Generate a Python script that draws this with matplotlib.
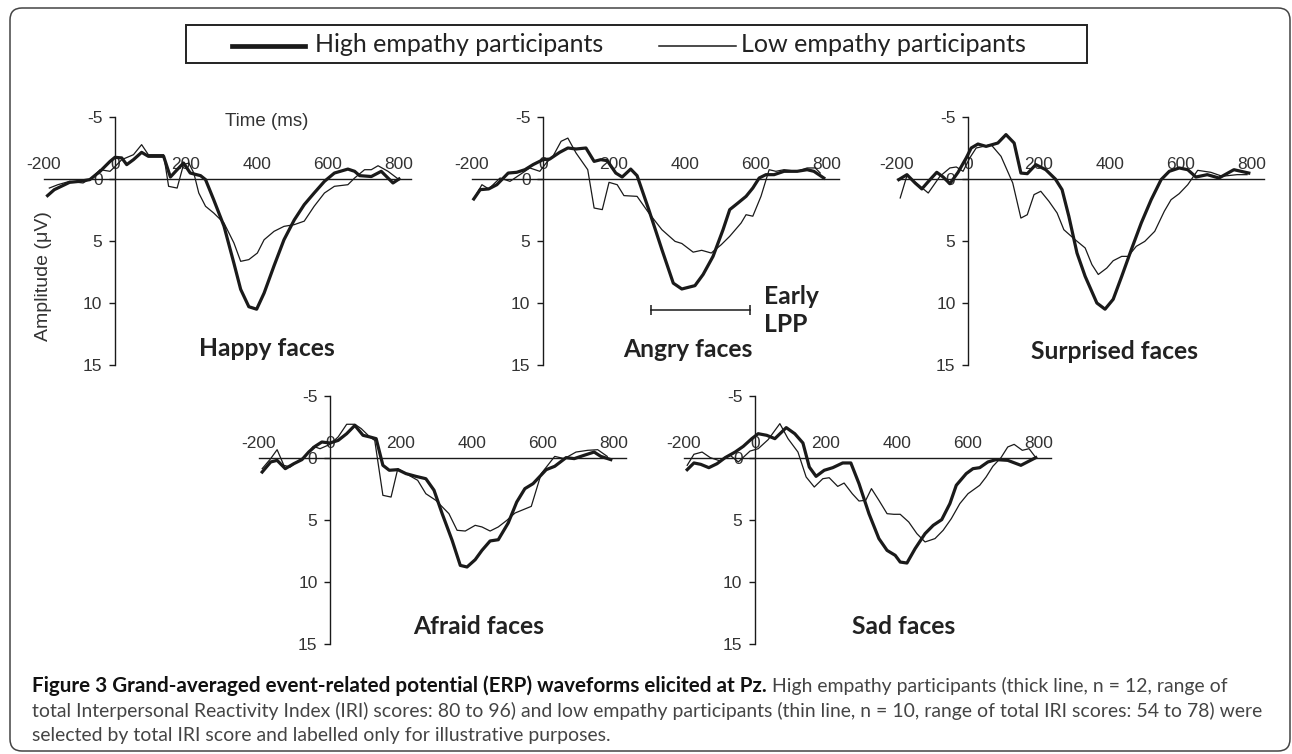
import matplotlib
matplotlib.use("Agg")
import matplotlib.pyplot as plt
from matplotlib.patches import FancyBboxPatch, Rectangle
from matplotlib.lines import Line2D
from matplotlib.transforms import IdentityTransform

plt.rcParams["axes.unicode_minus"] = False

W, H = 1292, 754

# ERP waveforms: time (ms) and amplitude (uV), per face type
happy_high_t = [-190, -171, -152, -128, -100, -71, -42, -14, 0, 19, 33, 52, 75, 94, 137, 156, 175, 193,
                212, 241, 255, 278, 307, 335, 354, 377, 399, 420, 448, 476, 505, 533, 561, 590, 618,
                656, 675, 689, 722, 750, 783, 800]
happy_high_v = [1.34, 0.86, 0.6, 0.27, 0.19, 0.05, -0.62, -1.42, -1.75, -1.7, -1.16, -1.56, -2.15, -1.83,
                -1.83, -0.16, -0.75, -1.29, -0.48, -0.27, 0.05, 1.67, 3.8, 6.8, 8.9, 10.3, 10.5, 9.2,
                7.0, 4.9, 3.3, 2.07, 1.13, 0.19, -0.48, -0.8, -0.62, -0.27, -0.2, -0.62, 0.32, 0.0]
happy_low_t = [-185, -161, -128, -90, -66, -42, -14, 0, 19, 52, 75, 94, 137, 151, 175, 193, 208, 222,
               236, 255, 278, 307, 335, 354, 377, 401, 420, 448, 476, 505, 533, 561, 590, 618, 656,
               675, 703, 722, 741, 769, 800]
happy_low_v = [0.73, 0.46, 0.19, 0.32, -0.08, -0.75, -0.62, -1.0, -1.56, -1.96, -2.77, -1.96, -1.96,
               0.59, 0.73, -1.16, -1.29, -0.48, 1.13, 2.2, 2.74, 3.55, 5.16, 6.64, 6.5, 5.97, 4.9,
               4.22, 3.82, 3.68, 3.4, 2.2, 1.13, 0.59, 0.46, -0.08, -0.75, -0.75, -1.07, -0.62, 0.05]

angry_high_t = [-195, -177, -153, -130, -98, -74, -51, -28, 0, 19, 47, 70, 93, 121, 144, 163, 181, 205,
                223, 247, 265, 298, 335, 367, 391, 428, 451, 479, 507, 526, 549, 572, 591, 609, 628,
                651, 679, 716, 744, 763, 791]
angry_high_v = [1.61, 0.86, 0.8, 0.46, -0.48, -0.54, -0.75, -1.16, -1.56, -1.61, -2.15, -2.5, -2.42,
                -2.5, -1.42, -1.56, -1.48, -0.48, -0.16, -0.8, -0.27, 2.47, 5.7, 8.4, 8.87, 8.6, 7.7,
                6.24, 4.1, 2.47, 1.94, 1.4, 0.73, -0.08, -0.35, -0.35, -0.62, -0.62, -0.75, -0.62, -0.08]
angry_low_t = [-191, -172, -153, -121, -93, -65, -37, -9, 9, 28, 51, 70, 93, 126, 144, 167, 186, 209,
               228, 265, 298, 335, 372, 391, 423, 447, 474, 502, 526, 558, 572, 591, 614, 637, 656,
               679, 716, 744, 767, 781]
angry_low_v = [1.4, 0.46, 0.8, -0.08, 0.19, -0.35, -0.89, -0.62, -1.29, -1.83, -3.04, -3.3, -2.1,
               -0.75, 2.34, 2.47, 0.27, 0.46, 1.34, 1.4, 2.74, 4.09, 5.03, 5.2, 5.9, 5.75, 5.97, 5.3,
               4.62, 3.55, 2.88, 3.0, 1.4, -0.75, -0.62, -0.75, -0.62, -0.89, -0.89, -0.48]

surprised_high_t = [-195, -172, -149, -130, -107, -88, -70, -51, -28, -5, 9, 28, 51, 84, 107, 130, 149,
                    167, 191, 219, 246, 265, 284, 307, 330, 363, 386, 409, 433, 460, 488, 516, 544,
                    567, 595, 619, 642, 674, 707, 749, 791]
surprised_high_v = [0.05, -0.35, 0.32, 0.8, 0.05, -0.54, -0.16, 0.38, -0.54, -1.7, -2.5, -2.82, -2.63,
                    -2.9, -3.58, -2.9, -0.48, -0.43, -1.16, -0.75, 0.0, 0.86, 3.0, 5.97, 7.85, 10.0,
                    10.5, 9.7, 7.85, 5.7, 3.55, 1.67, 0.05, -0.62, -0.89, -0.75, -0.16, -0.35, -0.08,
                    -0.75, -0.48]
surprised_low_t = [-191, -172, -140, -112, -79, -51, -33, -14, 5, 23, 65, 93, 126, 149, 167, 186, 205,
                   228, 251, 270, 302, 330, 349, 367, 391, 409, 433, 451, 474, 498, 526, 553, 572,
                   595, 619, 647, 684, 716, 758, 786]
surprised_low_v = [1.53, -0.27, 0.46, 1.13, -0.22, -0.89, -0.97, -0.62, -1.7, -2.5, -2.77, -1.83, 0.32,
                   3.15, 2.88, 1.26, 0.99, 1.8, 2.74, 4.09, 4.9, 5.56, 6.9, 7.7, 7.18, 6.59, 6.24,
                   6.24, 5.43, 5.03, 4.22, 2.6, 1.67, 1.18, 0.46, -0.7, -0.54, -0.22, -0.35, -0.35]

afraid_high_t = [-191, -167, -149, -126, -102, -79, -60, -42, -23, 0, 23, 47, 70, 93, 112, 130, 149,
                 167, 191, 214, 242, 270, 293, 316, 344, 367, 386, 409, 428, 451, 474, 502, 526, 549,
                 572, 609, 633, 665, 688, 716, 744, 763, 791]
afraid_high_v = [1.13, 0.32, 0.19, 0.86, 0.46, 0.13, -0.48, -0.94, -1.29, -1.21, -1.42, -1.96, -2.63,
                 -1.83, -1.7, -1.56, 0.59, 0.99, 0.94, 1.26, 1.48, 1.67, 2.6, 4.49, 6.64, 8.66, 8.79,
                 8.2, 7.45, 6.69, 6.59, 5.24, 3.55, 2.47, 2.07, 0.94, 0.67, -0.03, 0.05, -0.22, -0.48,
                 -0.13, 0.13]
afraid_low_t = [-191, -167, -149, -130, -112, -88, -70, -47, -28, 0, 23, 47, 70, 88, 112, 126, 149,
                172, 191, 214, 247, 270, 298, 335, 358, 381, 409, 428, 451, 474, 498, 521, 567, 595,
                633, 660, 693, 726, 754, 781]
afraid_low_v = [0.86, 0.05, -0.67, 0.59, 0.73, 0.19, -0.13, -0.94, -0.75, -1.1, -1.7, -2.72, -2.72,
                -2.37, -1.7, -1.42, 3.01, 3.15, 0.86, 1.26, 1.8, 2.88, 3.41, 4.49, 5.83, 5.89, 5.43,
                5.56, 5.89, 5.56, 5.03, 4.44, 3.9, 1.26, -0.13, 0.05, -0.48, -0.62, -0.67, -0.13]

sad_high_t = [-191, -172, -153, -130, -107, -84, -56, -33, -9, 9, 33, 56, 88, 112, 135, 153, 172, 195,
              219, 247, 270, 293, 321, 349, 372, 395, 409, 428, 451, 479, 502, 526, 549, 567, 595,
              614, 633, 656, 679, 712, 749, 791]
sad_high_v = [0.94, 0.4, 0.51, 0.78, 0.46, -0.03, -0.48, -0.94, -1.56, -1.96, -1.83, -1.56, -2.45,
              -1.96, -1.21, 0.73, 1.48, 0.99, 0.78, 0.4, 0.4, 2.07, 4.49, 6.5, 7.45, 7.85, 8.39, 8.47,
              7.31, 6.1, 5.43, 4.97, 3.68, 2.2, 1.26, 0.86, 0.78, 0.32, 0.13, 0.19, 0.59, -0.03]
sad_low_t = [-191, -172, -149, -126, -98, -70, -47, -14, 9, 37, 70, 93, 121, 144, 167, 191, 209, 233,
             251, 274, 293, 312, 328, 349, 372, 391, 409, 433, 456, 479, 507, 530, 553, 577, 600,
             633, 651, 670, 693, 712, 730, 753, 772, 791]
sad_low_v = [0.59, -0.3, -0.48, -0.03, 0.24, -0.22, 0.32, -0.56, -0.75, -1.48, -2.77, -1.56, -0.48,
             1.53, 2.34, 1.67, 1.59, 2.29, 2.02, 2.88, 3.47, 3.41, 2.47, 3.41, 4.49, 4.54, 4.54,
             5.16, 6.1, 6.77, 6.5, 5.83, 4.89, 3.68, 2.88, 2.2, 1.53, 0.67, -0.03, -0.89, -1.1,
             -0.62, -0.75, -0.03]

x_ticks = [-200, 0, 200, 400, 600, 800]
y_ticks = [-5, 0, 5, 10, 15]
lpp_window = [305, 584]

PANELS = [
    # title, high series, low series, y-axis px, top px, title position (ms, uV)
    ("Happy faces", happy_high_t, happy_high_v, happy_low_t, happy_low_v, 115, 117, (429, 13.7)),
    ("Angry faces", angry_high_t, angry_high_v, angry_low_t, angry_low_v, 543, 117, (409, 13.75)),
    ("Surprised faces", surprised_high_t, surprised_high_v, surprised_low_t, surprised_low_v,
     968, 117, (412, 13.95)),
    ("Afraid faces", afraid_high_t, afraid_high_v, afraid_low_t, afraid_low_v, 330, 396, (419, 13.6)),
    ("Sad faces", sad_high_t, sad_high_v, sad_low_t, sad_low_v, 755, 396, (419, 13.6)),
]

LINE_C = "#1a1a1a"
TICK_C = "#333333"
TICK_FONT = "Liberation Sans"
TEXT_FONT = "Lato"

fig = plt.figure(figsize=(W / 100, H / 100), dpi=100)
renderer = fig.canvas.get_renderer()


def fit_width(t, width):
    w = t.get_window_extent(renderer).width
    t.set_fontsize(t.get_fontsize() * width / w)
    return t


# outer rounded frame
fig.add_artist(FancyBboxPatch((10, 3), 1280, 743, boxstyle="round,pad=0,rounding_size=12",
                              transform=IdentityTransform(), facecolor="none",
                              edgecolor="#444444", lw=1.1))

# legend box
fig.add_artist(Rectangle((186, H - 63), 901, 38, transform=IdentityTransform(),
                         facecolor="none", edgecolor="#222222", lw=1.4))
fig.add_artist(Line2D([232, 305], [H - 46, H - 46], transform=IdentityTransform(),
                      color=LINE_C, lw=3.4))
fig.add_artist(Line2D([659, 736], [H - 46, H - 46], transform=IdentityTransform(),
                      color=LINE_C, lw=1.1))
t = fig.text(315 / W, 1 - 44 / H, "High empathy participants", family=TEXT_FONT,
             fontsize=18, va="center", ha="left", color="#222222")
fit_width(t, 288)
t = fig.text(741 / W, 1 - 44 / H, "Low empathy participants", family=TEXT_FONT,
             fontsize=18, va="center", ha="left", color="#222222")
fit_width(t, 284)

# panel title size fitted on the widest title
probe = fig.text(0, 0, "Surprised faces", family=TEXT_FONT, fontweight="bold", fontsize=16)
fit_width(probe, 168)
title_size = probe.get_fontsize()
probe.remove()

px_per_ms = 0.355
axes = []
for title, ht, hv, lt, lv, yaxis_px, top_px, tpos in PANELS:
    left = yaxis_px - 200 * px_per_ms
    width = 1035 * px_per_ms
    height = 248
    ax = fig.add_axes([left / W, 1 - (top_px + height) / H, width / W, height / H])
    ax.patch.set_visible(False)
    ax.set_xlim(-200, 835)
    ax.set_ylim(15, -5)
    for side in ("right", "bottom"):
        ax.spines[side].set_visible(False)
    ax.spines["top"].set_position(("data", 0))
    ax.spines["left"].set_position(("data", 0))
    for side in ("top", "left"):
        ax.spines[side].set_color(LINE_C)
        ax.spines[side].set_linewidth(1.0)
    ax.xaxis.set_ticks_position("top")
    ax.set_xticks(x_ticks)
    ax.set_yticks(y_ticks)
    ax.tick_params(axis="x", length=0, pad=5, labelsize=12.5, labelcolor=TICK_C)
    ax.tick_params(axis="y", length=4, width=1.0, color=LINE_C, pad=5,
                   labelsize=12.5, labelcolor=TICK_C)
    for lab in ax.get_xticklabels() + ax.get_yticklabels():
        lab.set_family(TICK_FONT)
    ax.plot(lt, lv, color=LINE_C, lw=0.9, zorder=3, clip_on=False)
    ax.plot(ht, hv, color=LINE_C, lw=2.3, zorder=4, clip_on=False)
    ax.text(tpos[0], tpos[1], title, ha="center", va="center", family=TEXT_FONT,
            fontweight="bold", fontsize=title_size, color="#222222")
    axes.append(ax)

# axis labels, only on the first panel
axes[0].text(427, -4.65, "Time (ms)", ha="center", va="center", family=TICK_FONT,
             fontsize=13.5, color=TICK_C)
fig.text(43 / W, 1 - 276 / H, "Amplitude (\u03bcV)", rotation=90, ha="center", va="center",
         family=TICK_FONT, fontsize=14, color=TICK_C)

# early LPP window marker on the angry panel
ax = axes[1]
ax.plot(lpp_window, [10.54, 10.54], color=LINE_C, lw=1.1)
ax.vlines(lpp_window, 10.14, 10.94, color=LINE_C, lw=1.1)
ax.text(623, 9.46, "Early", ha="left", va="center", family=TEXT_FONT, fontweight="bold",
        fontsize=title_size, color="#222222")
ax.text(623, 11.75, "LPP", ha="left", va="center", family=TEXT_FONT, fontweight="bold",
        fontsize=title_size, color="#222222")

# caption
CAP_C = "#444444"
line2 = fig.text(32 / W, 1 - 711 / H,
                 "total Interpersonal Reactivity Index (IRI) scores: 80 to 96) and low empathy "
                 "participants (thin line, n = 10, range of total IRI scores: 54 to 78) were",
                 family=TEXT_FONT, fontsize=12, va="center", ha="left", color=CAP_C)
fit_width(line2, 1225)
cap_size = line2.get_fontsize()
bold = fig.text(32 / W, 1 - 686 / H,
                "Figure 3 Grand-averaged event-related potential (ERP) waveforms elicited at Pz.",
                family=TEXT_FONT, fontweight="bold", fontsize=cap_size, va="center", ha="left",
                color="#111111")
fit_width(bold, 734)
x_end = bold.get_window_extent(renderer).x1
fig.text((x_end + 5) / W, 1 - 686 / H,
         "High empathy participants (thick line, n = 12, range of",
         family=TEXT_FONT, fontsize=cap_size, va="center", ha="left", color=CAP_C)
fig.text(32 / W, 1 - 735 / H,
         "selected by total IRI score and labelled only for illustrative purposes.",
         family=TEXT_FONT, fontsize=cap_size, va="center", ha="left", color=CAP_C)

fig.savefig("out.png", dpi=100)
